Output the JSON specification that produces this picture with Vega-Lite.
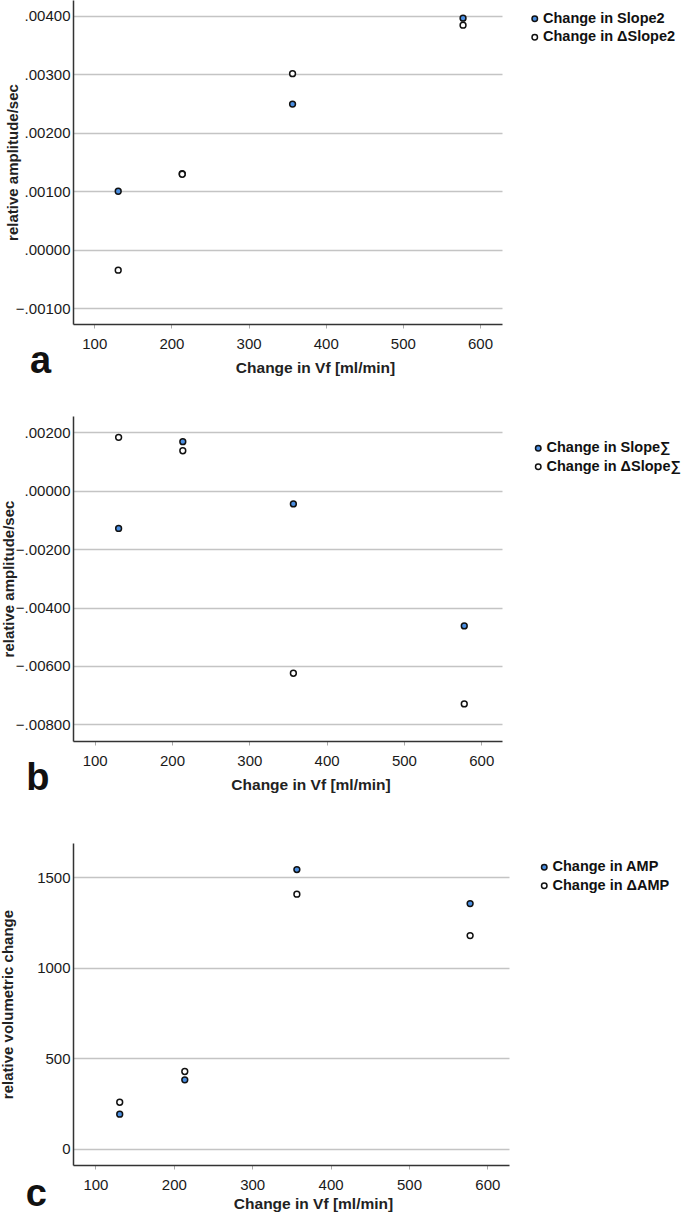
{
  "$schema": "https://vega.github.io/schema/vega-lite/v6.json",
  "padding": {"top": 0, "left": 0, "right": 2, "bottom": 0},
  "background": "white",
  "spacing": 45,
  "align": "none",
  "config": {
    "font": "Liberation Sans",
    "view": {"stroke": null},
    "axis": {
      "domainColor": "#333333",
      "domainWidth": 1.5,
      "gridColor": "#c4c4c4",
      "gridWidth": 1.5,
      "labelFont": "Liberation Sans",
      "labelFontSize": 15,
      "labelColor": "#1a1a1a",
      "titleFont": "Liberation Sans",
      "titleFontSize": 15.5,
      "titleFontWeight": "bold",
      "titleColor": "#222222"
    },
    "axisX": {"grid": false, "ticks": true, "tickColor": "#aaaaaa", "tickSize": 4, "labelPadding": 8, "titlePadding": 9},
    "axisY": {"grid": true, "ticks": false, "labelPadding": 3, "titlePadding": -14, "titleFontSize": 15},
    "legend": {
      "orient": "right",
      "labelFont": "Liberation Sans",
      "labelFontSize": 14.5,
      "labelFontWeight": "bold",
      "labelColor": "#111111",
      "symbolType": "circle",
      "symbolSize": 30,
      "symbolStrokeWidth": 1.5,
      "symbolStrokeColor": "#111111",
      "rowPadding": 3.5,
      "labelOffset": 1
    },
    "title": {"font": "Liberation Sans", "fontSize": 38, "fontWeight": "bold", "color": "#111111", "orient": "bottom", "anchor": "start", "frame": "bounds"}
  },
  "vconcat": [
    {
      "spacing": 35,
      "align": "none",
      "vconcat": [
        {
          "width": 429,
          "height": 324,
          "title": {"text": "a", "dx": 25, "dy": -37},
          "data": {"values": [
            {"vf": 131, "value": 0.00100, "series": "Change in Slope2"},
            {"vf": 214, "value": 0.00130, "series": "Change in Slope2"},
            {"vf": 357, "value": 0.00249, "series": "Change in Slope2"},
            {"vf": 578, "value": 0.00396, "series": "Change in Slope2"},
            {"vf": 131, "value": -0.00035, "series": "Change in ΔSlope2"},
            {"vf": 214, "value": 0.00129, "series": "Change in ΔSlope2"},
            {"vf": 357, "value": 0.00301, "series": "Change in ΔSlope2"},
            {"vf": 578, "value": 0.00384, "series": "Change in ΔSlope2"}
          ]},
          "mark": {"type": "point", "filled": true, "size": 34, "stroke": "#111111", "strokeWidth": 1.5, "opacity": 1},
          "encoding": {
            "x": {"field": "vf", "type": "quantitative", "scale": {"domain": [72.4, 628.5], "nice": false, "zero": false}, "axis": {"values": [100, 200, 300, 400, 500, 600], "title": "Change in Vf  [ml/min]", "titleX": 242}},
            "y": {"field": "value", "type": "quantitative", "scale": {"domain": [-0.00127, 0.00427], "nice": false, "zero": false}, "axis": {"values": [-0.001, 0, 0.001, 0.002, 0.003, 0.004], "labelExpr": "replace(format(datum.value, '.5f'), '0.', '.')", "title": "relative amplitude/sec", "minExtent": 67}},
            "fill": {"field": "series", "type": "nominal", "scale": {"domain": ["Change in Slope2", "Change in ΔSlope2"], "range": ["#4b8fe2", "#ffffff"]}, "legend": {"title": null, "padding": 11.5, "offset": 14}}
          }
        },
        {
          "width": 429,
          "height": 325,
          "title": {"text": "b", "dx": 25, "dy": -37},
          "data": {"values": [
            {"vf": 131, "value": -0.00129, "series": "Change in Slope∑"},
            {"vf": 214, "value": 0.00168, "series": "Change in Slope∑"},
            {"vf": 357, "value": -0.00045, "series": "Change in Slope∑"},
            {"vf": 578, "value": -0.00463, "series": "Change in Slope∑"},
            {"vf": 131, "value": 0.00183, "series": "Change in ΔSlope∑"},
            {"vf": 214, "value": 0.00137, "series": "Change in ΔSlope∑"},
            {"vf": 357, "value": -0.00625, "series": "Change in ΔSlope∑"},
            {"vf": 578, "value": -0.00730, "series": "Change in ΔSlope∑"}
          ]},
          "mark": {"type": "point", "filled": true, "size": 34, "stroke": "#111111", "strokeWidth": 1.5, "opacity": 1},
          "encoding": {
            "x": {"field": "vf", "type": "quantitative", "scale": {"domain": [72, 626.8], "nice": false, "zero": false}, "axis": {"values": [100, 200, 300, 400, 500, 600], "title": "Change in Vf  [ml/min]", "titleX": 237.5}},
            "y": {"field": "value", "type": "quantitative", "scale": {"domain": [-0.00857, 0.00256], "nice": false, "zero": false}, "axis": {"values": [-0.008, -0.006, -0.004, -0.002, 0, 0.002], "labelExpr": "replace(format(datum.value, '.5f'), '0.', '.')", "title": "relative amplitude/sec", "minExtent": 70.7}},
            "fill": {"field": "series", "type": "nominal", "scale": {"domain": ["Change in Slope∑", "Change in ΔSlope∑"], "range": ["#4b8fe2", "#ffffff"]}, "legend": {"title": null, "padding": 25, "offset": 3.5}}
          }
        }
      ],
      "resolve": {"scale": {"fill": "independent", "x": "independent", "y": "independent"}, "legend": {"fill": "independent"}}
    },
    {
      "width": 436,
      "height": 322,
      "title": {"text": "c", "dx": 25, "dy": -40},
      "data": {"values": [
        {"vf": 131, "value": 191, "series": "Change in AMP"},
        {"vf": 214, "value": 381, "series": "Change in AMP"},
        {"vf": 357, "value": 1543, "series": "Change in AMP"},
        {"vf": 578, "value": 1355, "series": "Change in AMP"},
        {"vf": 131, "value": 257, "series": "Change in ΔAMP"},
        {"vf": 214, "value": 427, "series": "Change in ΔAMP"},
        {"vf": 357, "value": 1407, "series": "Change in ΔAMP"},
        {"vf": 578, "value": 1178, "series": "Change in ΔAMP"}
      ]},
      "mark": {"type": "point", "filled": true, "size": 34, "stroke": "#111111", "strokeWidth": 1.5, "opacity": 1},
      "encoding": {
        "x": {"field": "vf", "type": "quantitative", "scale": {"domain": [71.4, 627.6], "nice": false, "zero": false}, "axis": {"values": [100, 200, 300, 400, 500, 600], "title": "Change in Vf   [ml/min]", "titleX": 240, "titlePadding": 4}},
        "y": {"field": "value", "type": "quantitative", "scale": {"domain": [-90, 1690], "nice": false, "zero": false}, "axis": {"values": [0, 500, 1000, 1500], "format": "d", "title": "relative volumetric change", "minExtent": 71.3}},
        "fill": {"field": "series", "type": "nominal", "scale": {"domain": ["Change in AMP", "Change in ΔAMP"], "range": ["#4b8fe2", "#ffffff"]}, "legend": {"title": null, "padding": 17, "offset": 10.5}}
      }
    }
  ],
  "resolve": {"scale": {"fill": "independent", "x": "independent", "y": "independent"}, "legend": {"fill": "independent"}}
}
